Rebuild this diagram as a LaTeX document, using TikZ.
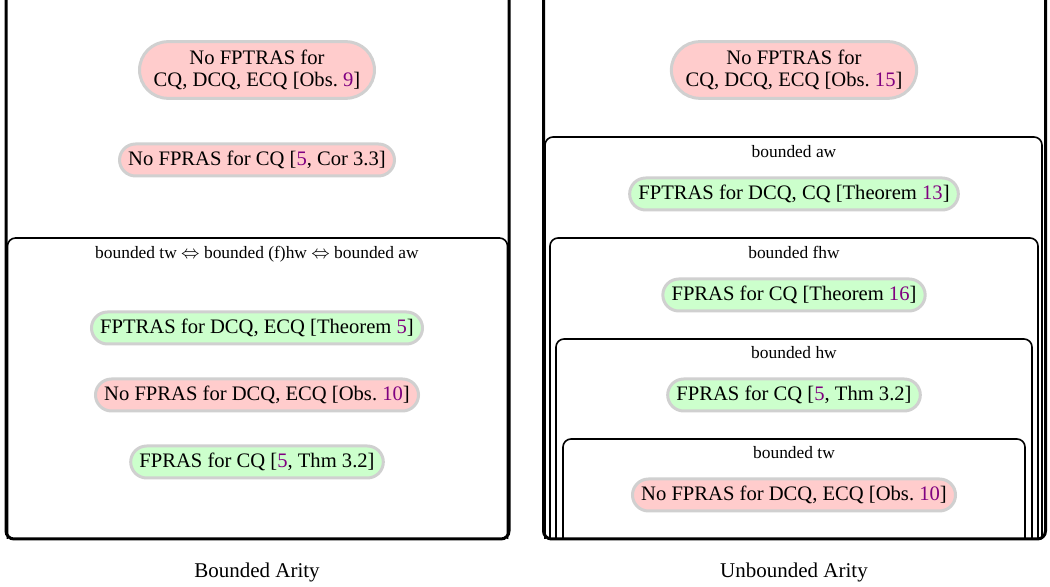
\documentclass[tikz,border=0pt]{standalone}
\usepackage{fontspec}
\setmainfont{Liberation Serif}
\usetikzlibrary{shapes.misc}
\definecolor{pinkfill}{HTML}{FFCCCC}
\definecolor{greenfill}{HTML}{CCFFCC}
\definecolor{pillborder}{HTML}{D0D0D0}
\definecolor{citec}{HTML}{800080}
\newcommand{\cit}[1]{\textcolor{citec}{#1}}
\begin{document}
\begin{tikzpicture}[x=0.5pt,y=-0.5pt,
  pill/.style={rounded rectangle, draw=pillborder, line width=1.5pt, inner xsep=3pt, inner ysep=3pt, minimum height=16pt, align=center, font=\fontsize{10.3}{11}\selectfont},
  tallpill/.style={inner ysep=4.2pt},
  badpill/.style={pill, fill=pinkfill},
  goodpill/.style={pill, fill=greenfill},
  lbl/.style={font=\fontsize{8.7}{10}\selectfont, inner sep=0pt},
  capt/.style={font=\fontsize{10.5}{12}\selectfont, inner sep=0pt},
  outerbox/.style={line width=1.5pt, rounded corners=4pt},
  innerbox/.style={line width=0.8pt, rounded corners=4pt}]
\useasboundingbox (0,0) rectangle (1050,587);

% ---------- left panel ----------
\draw[innerbox] (7.5,539) -- (7.5,238) -- (507.5,238) -- (507.5,539);
\draw[outerbox] (6,0) -- (6,539) -- (509,539) -- (509,0);

\node[badpill,tallpill] (l1) at (257,70) {No FPTRAS for\\CQ, DCQ, ECQ [Obs.~\cit{9}]};
\node[badpill] (l2) at (257,160) {No FPRAS for CQ [\cit{5}, Cor 3.3]};
\node[lbl] (lb) at (257,254) {bounded tw $\Leftrightarrow$ bounded (f)hw $\Leftrightarrow$ bounded aw};
\node[goodpill] (l3) at (257,328) {FPTRAS for DCQ, ECQ [Theorem \cit{5}]};
\node[badpill] (l4) at (257,395) {No FPRAS for DCQ, ECQ [Obs.~\cit{10}]};
\node[goodpill] (l5) at (257,462) {FPRAS for CQ [\cit{5}, Thm 3.2]};
\node[capt] (lc) at (257,572) {Bounded Arity};

% ---------- right panel ----------
\draw[innerbox] (545,539) -- (545,137) -- (1042,137) -- (1042,539);
\draw[innerbox] (550,539) -- (550,238) -- (1038,238) -- (1038,539);
\draw[innerbox] (556,539) -- (556,339) -- (1032,339) -- (1032,539);
\draw[innerbox] (563,539) -- (563,439) -- (1025,439) -- (1025,539);
\draw[outerbox] (543.5,0) -- (543.5,539) -- (1045.5,539) -- (1045.5,0);

\node[badpill,tallpill] (r1) at (794,70) {No FPTRAS for\\CQ, DCQ, ECQ [Obs.~\cit{15}]};
\node[lbl] (ra) at (794,152) {bounded aw};
\node[goodpill] (r2) at (794,194) {FPTRAS for DCQ, CQ [Theorem \cit{13}]};
\node[lbl] (rf) at (794,252) {bounded fhw};
\node[goodpill] (r3) at (794,295) {FPRAS for CQ [Theorem \cit{16}]};
\node[lbl] (rh) at (794,353) {bounded hw};
\node[goodpill] (r4) at (794,395) {FPRAS for CQ [\cit{5}, Thm 3.2]};
\node[lbl] (rt) at (794,453) {bounded tw};
\node[badpill] (r5) at (794,495) {No FPRAS for DCQ, ECQ [Obs.~\cit{10}]};
\node[capt] (rc) at (794,572) {Unbounded Arity};
\end{tikzpicture}
\end{document}
